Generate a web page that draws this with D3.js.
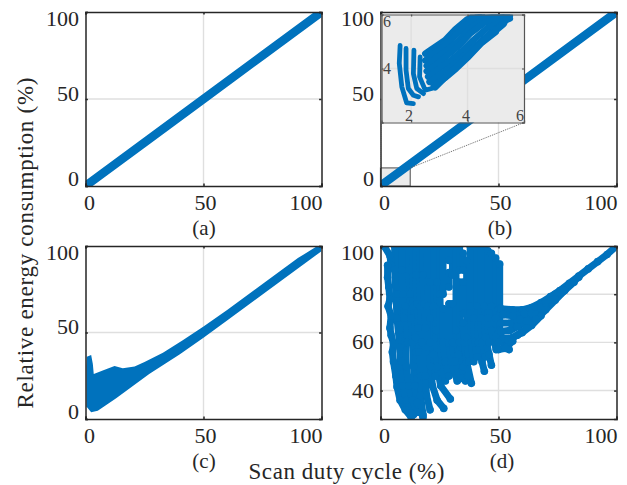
<!DOCTYPE html>
<html><head><meta charset="utf-8">
<script src="https://cdn.jsdelivr.net/npm/d3@7"></script>
<style>html,body{margin:0;background:#fff}svg{display:block}text{font-family:"Liberation Serif",serif;fill:#262626}</style>
</head><body><svg id="c" width="627" height="485"></svg>
<script>
const ticksMain=[0,50,100];
const ticksD=[40,60,80,100];
const ticksInset=[2,4,6];
const captions=["(a)","(b)","(c)","(d)"];
const yTitle="Relative energy consumption (%)";
const xTitle="Scan duty cycle (%)";
const blue="#0072BD";
const lineA=[[0,0],[25,25],[50,50],[75,75],[100,100]];
const lineB=[[1.5,1.6],[25,25],[50,50],[75,75],[100,100]];
const cUpper=[[0.4,7],[0.4,30],[0.55,36],[2.4,37],[3.1,32],[3.5,26],[7.3,28],[12.3,30.6],[15.8,29.4],[20.8,30.3],[25,33],[32.8,38.3],[41.2,45.5],[50,53.5],[60,63],[75,78],[90,93],[100,101.5]];
const cLower=[[100,97],[90,87],[75,72],[60,57],[50,47],[40,37.5],[27,26],[13,12],[5.2,4.8],[2.4,3.9],[0.55,7]];
const insetJ=[
 [[1.61,4.86],[1.58,4.19],[1.67,3.32],[1.84,2.73],[2.08,2.7]],
 [[1.82,4.74],[1.82,3.94],[1.9,3.26],[2.08,3.01],[2.26,2.95]],
 [[2.1,4.68],[2.08,3.81],[2.2,3.26],[2.44,3.07]],
 [[2.32,4.43],[2.3,3.69],[2.5,3.2],[2.73,3.26]]
];
const insetBody=[
 [[2.5,4.55],[2.73,4.72],[3.2,5.05],[3.56,5.45],[3.96,5.8],[4.4,6.05]],
 [[2.7,4.55],[3.2,4.95],[3.6,5.35],[4,5.72],[4.5,6]],
 [[2.5,4.3],[2.8,4.55],[3.2,4.85],[3.6,5.25],[4,5.65],[4.5,5.95],[5.2,6.05]],
 [[2.55,4.1],[2.9,4.4],[3.3,4.7],[3.7,5.05],[4.1,5.5],[4.6,5.85],[5.4,6.0]],
 [[2.55,3.9],[2.9,4.15],[3.3,4.5],[3.7,4.85],[4.1,5.3],[4.6,5.7],[5.5,5.95]],
 [[2.6,3.7],[3,4],[3.4,4.3],[3.8,4.65],[4.2,5.05],[4.7,5.5],[5.5,5.85]],
 [[2.65,3.5],[3,3.75],[3.4,4.05],[3.85,4.45],[4.3,4.85],[4.8,5.3],[5.3,5.7]],
 [[2.8,3.35],[3.2,3.65],[3.6,4],[4,4.4],[4.5,4.95],[5,5.35]],
 [[2.85,3.3],[3.38,3.85],[3.96,4.4],[4.56,5.03],[4.92,5.33],[5.27,5.64]]
];
const dStrands=[
 [[1.5,100],[4,96],[4.5,92]],
 [[3,92],[3,87],[3.5,83],[4,78],[3.2,75],[4.5,71],[4,66],[4.5,63],[5.5,59.5],[5,56],[5.5,52],[6.5,46],[7,41.6],[8.3,36],[10.5,32],[13,29]],
 [[6,100],[6,90],[6.5,80],[7,70],[8,60],[8.5,50],[9.5,42],[11,36],[14,30]],
 [[7.5,100],[7.5,80],[8,65]],[[8.2,58],[9,52]],
 [[9,100],[9,90],[9.5,80],[10,70],[10.5,60],[11,50],[12,42],[13.5,36],[16,31]],
 [[10.5,100],[10.5,75],[11.5,60]],
 [[12,100],[12,90],[12.5,80],[13,70],[13.5,60],[14,50],[14.5,42],[15.5,35],[18,29]],
 [[13.5,100],[14,75],[14.8,62]],[[15,56],[15.5,45]],
 [[15,100],[15,88],[15.5,76],[16,66],[16.5,56],[17,46],[17,38],[18,30]],
 [[16.5,100],[17,75],[17.5,60]],
 [[18,100],[18,88],[18.5,76],[19,66],[19,56],[19,46],[19.5,38],[21,32]],
 [[19.8,100],[20,75],[20,58]],
 [[21,100],[21,85],[21,70],[21,60],[21.2,50],[22,42],[24,36],[26.8,32.6]],
 [[22.5,100],[22.5,75],[22.5,55],[23.2,46]],
 [[24,100],[24,85],[23.5,65],[24,50],[25.5,42],[29.6,36.5]],
 [[25.2,100],[25.2,80],[25.5,60],[26,52],[27.5,44]],
 [[26.5,100],[26.5,80]],[[26.5,74],[26.5,60],[27.5,52],[29,46]],
 [[29,100],[29,94]],[[29,89],[29,83]],[[29,76],[29,60],[30,52],[32.5,44]],
 [[30.5,100],[30.5,88]],[[30.5,76],[30.5,60],[31.5,52],[34,45]],
 [[32,100],[32,65],[33,55],[36,44]],
 [[33.5,100],[33.5,90]],[[33.5,85],[33.5,60],[35,50],[37,46]],
 [[35,97],[35,90]],[[35,85],[35,72]],[[35,68],[35.5,60],[36.5,52],[38.5,43]],
 [[36.5,94],[36.5,62],[37.5,52]],
 [[38,100],[38,75],[38.5,60],[39.5,52]],
 [[39.5,100],[39.5,70],[40,60],[41,54]],
 [[41,100],[41,75],[41.5,60],[43,52],[44,48]],
 [[42.5,100],[42.5,70],[43,60],[44.5,54]],
 [[44,100],[44,75],[44.5,62],[46,55],[47,50.5]],
 [[45.5,98],[45.5,70],[46,60]],
 [[47,97],[47,75],[47,65],[49,57]],
 [[48.8,95],[48.8,70],[49,60]],
 [[50.5,92.5],[50.5,74],[50.5,65],[52.5,58],[54.5,57]],
 [[51,74],[56,73.5],[60,73.5],[64,74.5],[68,76.5],[72,79],[76,81.5],[80,84.5],[84,87.5],[88,90.5],[92,93.5],[96,96.5],[100,100]],
 [[52,71.5],[56,71],[61,72],[66,74],[70,77],[74,80]],
 [[51,68],[55,68],[59,69.5],[64,72],[68,74.5],[72,77.5],[76,80.5],[80,83.8],[84,87]],
 [[51,64.5],[55,65],[58,66.5],[62,69],[66,71.5],[70,74.5],[74,78],[78,81.5],[82,85]],
 [[52,61.5],[56,62],[60,64],[64,67],[68,71]],
 [[50,60],[54,61],[58,63],[62,66],[66,69.5],[70,73.5],[74,77.5],[78,81.5]],
 [[50,57],[53,57.5],[56,60.5]]
];
const panels=[
 {l:85.5,r:321.5,t:12,b:186,yd:[0,100],yt:ticksMain,cap:0,capx:204,capy:235},
 {l:380.5,r:616.5,t:12,b:186,yd:[0,100],yt:ticksMain,cap:1,capx:500,capy:235},
 {l:85.5,r:321.5,t:246,b:419,yd:[0,100],yt:ticksMain,cap:2,capx:204,capy:468},
 {l:380.5,r:616.5,t:246,b:419,yd:[28.2,100],yt:ticksD,cap:3,capx:502,capy:468}
];
const svg=d3.select("#c");
const lineGen=(x,y)=>d3.line().x(d=>x(d[0])).y(d=>y(d[1]));
const defs=svg.append("defs");
function clip(id,x,y,w,h){defs.append("clipPath").attr("id",id).append("rect").attr("x",x).attr("y",y).attr("width",w).attr("height",h);}
function frame(g,x,y,xt,yt){
 const [l,r]=x.range(),[b,t]=y.range();
 g.append("g").selectAll("line").data(xt.filter(v=>v>x.domain()[0]&&v<x.domain()[1])).join("line")
  .attr("x1",x).attr("x2",x).attr("y1",t).attr("y2",b).attr("stroke","#dfdfdf").attr("stroke-width",1.4);
 g.append("g").selectAll("line").data(yt.filter(v=>v>y.domain()[0]&&v<y.domain()[1])).join("line")
  .attr("y1",y).attr("y2",y).attr("x1",l).attr("x2",r).attr("stroke","#dfdfdf").attr("stroke-width",1.4);
}
function box(g,x,y,xt,yt,col,sw,tick){
 const [l,r]=x.range(),[b,t]=y.range();
 const axes=[[d3.axisBottom(x),0,b,xt,-tick],[d3.axisTop(x),0,t,xt,-tick],[d3.axisLeft(y),l,0,yt,-tick],[d3.axisRight(y),r,0,yt,-tick]];
 axes.forEach(([a,dx,dy,tv,ts])=>{
  const ag=g.append("g").attr("transform",`translate(${dx},${dy})`).call(a.tickValues(tv).tickSize(ts).tickFormat(""));
  ag.selectAll("path").attr("stroke",col).attr("stroke-width",sw);
  ag.selectAll("line").attr("stroke",col).attr("stroke-width",sw);
 });
}
panels.forEach((p,i)=>{
 const x=d3.scaleLinear().domain([0,100]).range([p.l,p.r]);
 const y=d3.scaleLinear().domain(p.yd).range([p.b,p.t]);
 const g=svg.append("g");
 frame(g,x,y,ticksMain,p.yt);
 const bx=[0,12.6],by=[0,10.4];
 if(i===1){
  g.append("rect").attr("x",x(bx[0])).attr("y",y(by[1])).attr("width",x(bx[1])-x(bx[0])).attr("height",y(by[0])-y(by[1]))
   .attr("fill","#ebebeb").attr("stroke","#666").attr("stroke-width",1.2);
 }
 clip("cp"+i,p.l,p.t,p.r-p.l,p.b-p.t);
 const m=g.append("g").attr("clip-path",`url(#cp${i})`);
 const L=lineGen(x,y);
 if(i===0||i===1){
  m.append("path").attr("d",L(i===0?lineA:lineB)).attr("fill","none").attr("stroke",blue).attr("stroke-width",8.5).attr("stroke-linecap","round");
 }
 if(i===2){
  m.append("path").attr("d",L(cUpper.concat(cLower))+"Z").attr("fill",blue);
 }
 if(i===3){
  m.selectAll("path").data(dStrands).join("path").attr("d",L).attr("fill","none").attr("stroke",blue).attr("stroke-width",7).attr("stroke-linecap","round").attr("stroke-linejoin","round");
  m.append("g").selectAll("circle").data(dStrands.flat()).join("circle").attr("cx",d=>x(d[0])).attr("cy",d=>y(d[1])).attr("r",3.8).attr("fill",blue);
 }
 box(g,x,y,ticksMain,p.yt,"#262626",1.5,2.4);
 g.append("g").selectAll("text").data(ticksMain).join("text").text(d=>d)
  .attr("x",d=>d===100?p.r+1:x(d)+(d===0?4:2)).attr("y",p.b+24).attr("text-anchor",d=>d===100?"end":"middle").attr("font-size",22);
 g.append("g").selectAll("text").data(p.yt).join("text").text(d=>d)
  .attr("x",p.l-6.5).attr("y",d=>y(d)+7+(d===100?6.5:(i<3&&d===50?-5.5:(d===0?-7.5:0)))).attr("text-anchor","end").attr("font-size",22);
 g.append("text").text(captions[p.cap]).attr("x",p.capx).attr("y",p.capy).attr("text-anchor","middle").attr("font-size",21);
 if(i===1){
  const ix=d3.scaleLinear().domain([0.95,6]).range([381.5,524]);
  const iy=d3.scaleLinear().domain([2,6]).range([122.5,14.5]);
  g.append("line").attr("x1",x(bx[0])).attr("y1",y(by[1])).attr("x2",ix(0.95)).attr("y2",iy(2)).attr("stroke","#666").attr("stroke-width",1).attr("stroke-dasharray","1,1");
  g.append("line").attr("x1",x(bx[1])).attr("y1",y(by[1])).attr("x2",ix(6)).attr("y2",iy(2)).attr("stroke","#666").attr("stroke-width",1).attr("stroke-dasharray","1,1");
  const h=svg.append("g");
  h.append("rect").attr("x",ix(0.95)).attr("y",iy(6)).attr("width",ix(6)-ix(0.95)).attr("height",iy(2)-iy(6)).attr("fill","#ebebeb");
  frame(h,ix,iy,ticksInset,ticksInset);
  clip("cpi",ix(0.95),iy(6),ix(6)-ix(0.95),iy(2)-iy(6));
  const im=h.append("g").attr("clip-path","url(#cpi)");
  const il=lineGen(ix,iy);
  im.append("g").selectAll("path").data(insetJ).join("path").attr("d",il).attr("fill","none").attr("stroke",blue).attr("stroke-width",4.8).attr("stroke-linecap","round").attr("stroke-linejoin","round");
  im.append("g").selectAll("path").data(insetBody).join("path").attr("d",il).attr("fill","none").attr("stroke",blue).attr("stroke-width",6.4).attr("stroke-linecap","round").attr("stroke-linejoin","round");
  box(h,ix,iy,ticksInset,ticksInset,"#555",1.2,2);
  h.append("g").selectAll("text").data(ticksInset).join("text").text(d=>d)
   .attr("x",d=>d===2?409:(d===4?466:520)).attr("y",121).attr("text-anchor","middle").attr("font-size",16).style("fill","#444");
  h.append("g").selectAll("text").data(ticksInset.slice(1)).join("text").text(d=>d)
   .attr("x",387).attr("y",d=>d===6?27:74).attr("text-anchor","middle").attr("font-size",16).style("fill","#444");
 }
});
svg.append("text").text(xTitle).attr("x",346.5).attr("y",479).attr("text-anchor","middle").attr("font-size",23).attr("textLength",196);
svg.append("text").text(yTitle).attr("transform","translate(33,243) rotate(-90)").attr("text-anchor","middle").attr("font-size",23).attr("textLength",331);
</script></body></html>
